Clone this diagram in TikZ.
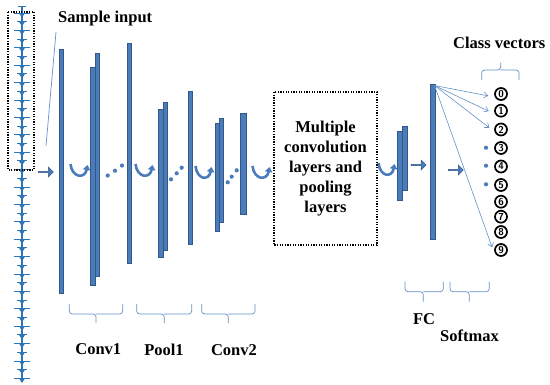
\documentclass[tikz,border=0pt]{standalone}
\usepackage{fontspec}
\setmainfont{Liberation Serif}
\usetikzlibrary{arrows.meta,shapes.arrows}
\definecolor{barfill}{RGB}{74,124,187}
\definecolor{barline}{RGB}{50,88,135}
\definecolor{sig}{RGB}{46,117,182}
\definecolor{thinblue}{RGB}{100,145,200}
\tikzset{
  layerbar/.style={fill=barfill, draw=barline, line width=0.6pt, inner sep=0, rectangle},
  lbl/.style={font=\fontsize{16.5}{20}\selectfont\bfseries, inner sep=0},
  uarr/.style={draw=barfill, line width=2.6pt, -{Triangle[length=5pt,width=7.5pt]}},
  blockarr/.style={single arrow, fill=barfill, draw=barline, line width=0.5pt, inner sep=0,
     minimum height=15pt, minimum width=10pt, single arrow head extend=2pt, single arrow head indent=0pt},
  bracepath/.style={draw=thinblue, line width=0.7pt, rounded corners=3pt},
  fan/.style={draw=thinblue, line width=0.6pt, -{Straight Barb[length=4pt,width=6pt]}},
  dotbox/.style={draw=black, line width=1.3pt, dash pattern=on 1.3pt off 1.3pt},
  digit/.style={circle, draw=black, line width=1.7pt, minimum size=12pt, inner sep=0,
     font=\sffamily\bfseries\fontsize{10}{10}\selectfont},
  bdot/.style={circle, fill=barfill, minimum size=4.2pt, inner sep=0}
}
\begin{document}
\begin{tikzpicture}[x=1pt,y=-1pt]
\useasboundingbox (0,0) rectangle (550,384);
% ---- input signal ----
\draw[sig, line width=2pt] (22,6) -- (22,380);
\draw[sig, line width=1pt] (18,6) -- (26,6);
\foreach \k in {0,...,42}{
  \pgfmathsetmacro{\yy}{13+\k*8.7}
  \pgfmathsetmacro{\ww}{mod(\k,2)==0 ? 8 : 5}
  \draw[sig, line width=1pt] ({22-\ww},\yy) -- ({22+\ww},\yy);
  \fill[sig] (19,\yy) -- (25,\yy) -- (22,\yy+4.5) -- cycle;
}
\draw[dotbox] (8,12) rectangle (34,170);
% ---- sample input ----
\node[lbl, anchor=base west] (sample) at (58,22) {Sample input};
\coordinate (ptrA) at (56,32);
\coordinate (ptrB) at (46,146);
\draw[thinblue, line width=0.7pt] (ptrA) -- (ptrB);
\node[blockarr] (a1) at (45.5,172) {};
% ---- layers ----
\node[layerbar, minimum width=4.5pt, minimum height=244pt] (b1) at (61.25,171) {};
\node[layerbar, minimum width=4.5pt, minimum height=223pt] (b2r) at (97.25,164.5) {};
\node[layerbar, minimum width=5pt, minimum height=218pt] (b2l) at (92.5,176) {};
\node[layerbar, minimum width=4pt, minimum height=220pt] (b3) at (129,153) {};
\node[layerbar, minimum width=4pt, minimum height=148pt] (b4r) at (165,176) {};
\node[layerbar, minimum width=5pt, minimum height=148pt] (b4l) at (160.5,183) {};
\node[layerbar, minimum width=4pt, minimum height=153pt] (b5) at (190,167.5) {};
\node[layerbar, minimum width=4pt, minimum height=104.4pt] (b6r) at (221.3,170.5) {};
\node[layerbar, minimum width=4.3pt, minimum height=107.7pt] (b6l) at (217.15,177.15) {};
\node[layerbar, minimum width=5.3pt, minimum height=101pt] (b7) at (243.35,163.8) {};
\node[layerbar, minimum width=4.3pt, minimum height=63.5pt] (fcr) at (404.85,158.25) {};
\node[layerbar, minimum width=5.2pt, minimum height=68.3pt] (fcl) at (400.1,165.85) {};
\node[layerbar, minimum width=4.3pt, minimum height=155.3pt] (big) at (432.85,161.65) {};
% ---- U arrows ----
\draw[uarr] (70.5,164) .. controls (72,178) and (85,179) .. (87.5,165);
\draw[uarr] (135.5,164) .. controls (137,178) and (150,179) .. (152.5,165);
\draw[uarr] (195.5,166) .. controls (197,180) and (209,181) .. (211.5,167);
\draw[uarr] (252.5,166) .. controls (254,180) and (267,181) .. (269.5,167);
\draw[uarr] (378.5,163) .. controls (380,177) and (392,178) .. (394.5,164);
% ---- dots ----
\node[bdot] (p1) at (107.7,175.5) {};
\node[bdot] (p2) at (115,170.7) {};
\node[bdot] (p3) at (122,165.5) {};
\node[bdot] (p4) at (171,179.3) {};
\node[bdot] (p5) at (176.7,173.3) {};
\node[bdot] (p6) at (181.7,167.7) {};
\node[bdot] (p7) at (227.7,182.3) {};
\node[bdot] (p8) at (231.7,176.7) {};
\node[bdot] (p9) at (236.7,170.3) {};
% ---- middle box ----
\draw[dotbox] (274,92) rectangle (377,245);
\node[lbl, align=center] (multi) at (325.5,169) {Multiple\\convolution\\layers and\\pooling\\layers};
% ---- right side ----
\node[blockarr] (a2) at (418.3,165) {};
\node[blockarr] (a3) at (455.6,170) {};
\coordinate (fanstart) at (434.5,85.5);
\node[digit] (d0) at (501,94) {0};
\node[digit] (d1) at (501,110.7) {1};
\node[digit] (d2) at (501,129.5) {2};
\node[digit] (d3) at (501,148) {3};
\node[digit] (d4) at (501,166.5) {4};
\node[digit] (d5) at (501,185) {5};
\node[digit] (d6) at (501,201.7) {6};
\node[digit] (d7) at (501,216.7) {7};
\node[digit] (d8) at (501,232) {8};
\node[digit] (d9) at (501,250) {9};
\node[bdot] (q3) at (486,147.7) {};
\node[bdot] (q4) at (486,165.7) {};
\node[bdot] (q5) at (486,184.3) {};
\draw[fan, shorten >=6pt] (fanstart) -- ([yshift=-3pt]d0.west);
\draw[fan, shorten >=6pt] (fanstart) -- ([yshift=-3pt]d1.west);
\draw[fan, shorten >=6pt] (fanstart) -- ([yshift=-2pt]d2.west);
\draw[fan, shorten >=6pt] (fanstart) -- ([yshift=-3pt]d9.west);
% ---- braces ----
\draw[bracepath] (69.3,304) -- (69.3,314) -- (96,314) -- (96,323) (96,314) -- (122.7,314) -- (122.7,304);
\draw[bracepath] (136.7,304) -- (136.7,314) -- (164.2,314) -- (164.2,323) (164.2,314) -- (191.7,314) -- (191.7,304);
\draw[bracepath] (201.7,304) -- (201.7,314) -- (228.3,314) -- (228.3,323) (228.3,314) -- (255,314) -- (255,304);
\draw[bracepath] (405,281.7) -- (405,291.7) -- (423.3,291.7) -- (423.3,301.7) (423.3,291.7) -- (443.3,291.7) -- (443.3,281.7);
\draw[bracepath] (450,281.7) -- (450,291.7) -- (469.3,291.7) -- (469.3,301.7) (469.3,291.7) -- (489.3,291.7) -- (489.3,281.7);
\draw[bracepath] (481.7,80) -- (481.7,70) -- (500.7,70) -- (500.7,62.7) (500.7,70) -- (519,70) -- (519,80);
% ---- labels ----
\node[lbl, anchor=base west] (classv) at (453,48.7) {Class vectors};
\node[lbl, anchor=base] (conv1) at (98.3,354) {Conv1};
\node[lbl, anchor=base] (pool1) at (164,355) {Pool1};
\node[lbl, anchor=base] (conv2) at (234,355) {Conv2};
\node[lbl, anchor=base] (fc) at (424,324) {FC};
\node[lbl, anchor=base] (softmax) at (469.5,341.7) {Softmax};
\end{tikzpicture}
\end{document}
